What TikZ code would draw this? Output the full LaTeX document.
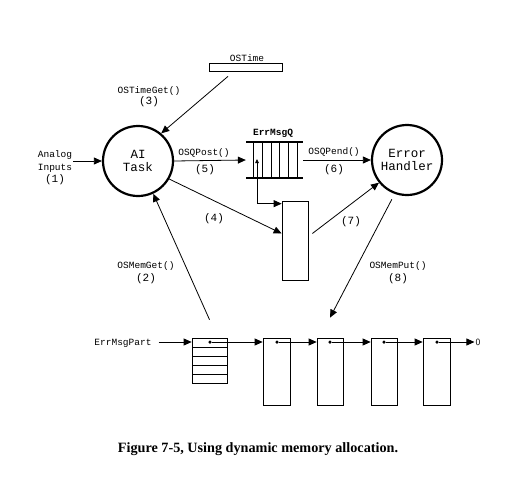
\documentclass[tikz,border=0pt]{standalone}
\usepackage{fontspec}
\setmainfont{Liberation Serif}
\setmonofont{Liberation Mono}
\usetikzlibrary{arrows.meta,calc}
\tikzset{
  arr/.style={line width=0.8pt,-{Triangle[length=8pt,width=7pt]}},
  task/.style={draw,circle,line width=2.2pt,minimum size=70pt,inner sep=0pt,align=center,font=\ttfamily\fontsize{12.5}{13.5}\selectfont},
  fn/.style={font=\ttfamily\fontsize{9.5}{10}\selectfont,inner sep=1pt},
  num/.style={font=\ttfamily\fontsize{11}{12}\selectfont,inner sep=1pt},
  box/.style={draw,line width=0.7pt,inner sep=0pt},
  dot/.style={circle,fill,inner sep=0pt,minimum size=3.5pt}
}
\begin{document}
\begin{tikzpicture}[x=1pt,y=-1pt]
\useasboundingbox (0,0) rectangle (511,480);

% OSTime
\node[box,minimum width=73pt,minimum height=8pt] (ostime) at (245.5,67) {};
\node[fn] (ostimelbl) at (247,58) {OSTime};

% tasks
\node[task] (ai) at (138,161) {AI\\Task};
\node[task] (eh) at (407,160) {Error\\Handler};

% analog inputs
\node[fn,align=center,font=\ttfamily\fontsize{9.5}{12.5}\selectfont] (analog) at (55,168) {Analog\\Inputs\\{\fontsize{11}{12}\selectfont(1)}};
\draw[arr] (analog.east |- ai) -- (ai.west);

% OSTimeGet
\draw[arr] ([shift={(-17.5pt,-5pt)}]ostime.south) -- (ai.50);
\node[fn] (l3a) at (149,91) {OSTimeGet()};
\node[num] (l3b) at (149,102) {(3)};

% queue
\node[inner sep=0pt,minimum width=57pt,minimum height=36pt] (queue) at (274.5,160) {};
\draw[line width=1.8pt] (246,142) -- (303,142);
\draw[line width=1.8pt] (246,178) -- (303,178);
\foreach \xx in {253,262,271,279,288,297} \draw[line width=0.8pt] (\xx,142) -- (\xx,178);
\node[font=\ttfamily\bfseries\fontsize{9.5}{10}\selectfont,inner sep=1pt] (qlbl) at (273,133) {ErrMsgQ};

\draw[arr] (ai.east) -- (queue.west);
\node[fn] (l5a) at (204,153) {OSQPost()};
\node[num] (l5b) at (205,170) {(5)};

\draw[arr] (queue.east) -- (eh.west);
\node[fn] (l6a) at (334,152) {OSQPend()};
\node[num] (l6b) at (334,170) {(6)};

% message
\node[box,minimum width=26pt,minimum height=79pt] (msg) at (295,240.5) {};
\coordinate (qp) at (257,159);
\draw[line width=0.8pt,{Triangle[length=4pt,width=3.5pt]}-{Triangle[length=8pt,width=7pt]}] (qp) |- ([yshift=-3pt]msg.north west);

\draw[arr] (ai.-30) -- ([yshift=7pt]msg.west);
\node[num] (l4) at (214,219) {(4)};

\draw[arr] ([shift={(4pt,7pt)}]msg.east) -- (eh.219);
\node[num] (l7) at (351,222) {(7)};

% partition blocks
\node[box,minimum width=35pt,minimum height=45pt] (b1) at (209.5,360.5) {};
\foreach \yy in {347,356,365,374} \draw[line width=0.7pt] (192,\yy) -- (227,\yy);
\node[box,minimum width=27pt,minimum height=67pt] (b2) at (276.5,371.5) {};
\node[box,minimum width=26pt,minimum height=67pt] (b3) at (330,371.5) {};
\node[box,minimum width=26pt,minimum height=67pt] (b4) at (384,371.5) {};
\node[box,minimum width=27pt,minimum height=67pt] (b5) at (436.5,371.5) {};

\node[dot] (d1) at (210,342) {};
\node[dot] (d2) at (277,342) {};
\node[dot] (d3) at (330,342) {};
\node[dot] (d4) at (384,342) {};
\node[dot] (d5) at (437,342) {};
\node[font=\sffamily\fontsize{9.5}{10}\selectfont,inner sep=1pt] (zero) at (478,342) {0};

\draw[arr] (d1) -- (d1 -| b2.west);
\draw[arr] (d2) -- (d2 -| b3.west);
\draw[arr] (d3) -- (d3 -| b4.west);
\draw[arr] (d4) -- (d4 -| b5.west);
\draw[arr] (d5) -- (zero.west);

\node[fn] (part) at (123,343) {ErrMsgPart};
\draw[arr] ([xshift=6pt]part.east |- d1) -- (d1 -| b1.west);

% OSMemGet
\draw[arr] ([yshift=18pt]b1.north) -- (ai.-65);
\node[fn] (l2a) at (146,266) {OSMemGet()};
\node[num] (l2b) at (146,279) {(2)};

% OSMemPut
\draw[arr,shorten <=6pt] (eh.250) -- ([yshift=20pt]b3.north);
\node[fn] (l8a) at (398,266) {OSMemPut()};
\node[num] (l8b) at (398,279) {(8)};

% caption
\node[font=\bfseries\fontsize{14.2}{16}\selectfont] (cap) at (258,449) {Figure 7-5, Using dynamic memory allocation.};
\end{tikzpicture}
\end{document}
